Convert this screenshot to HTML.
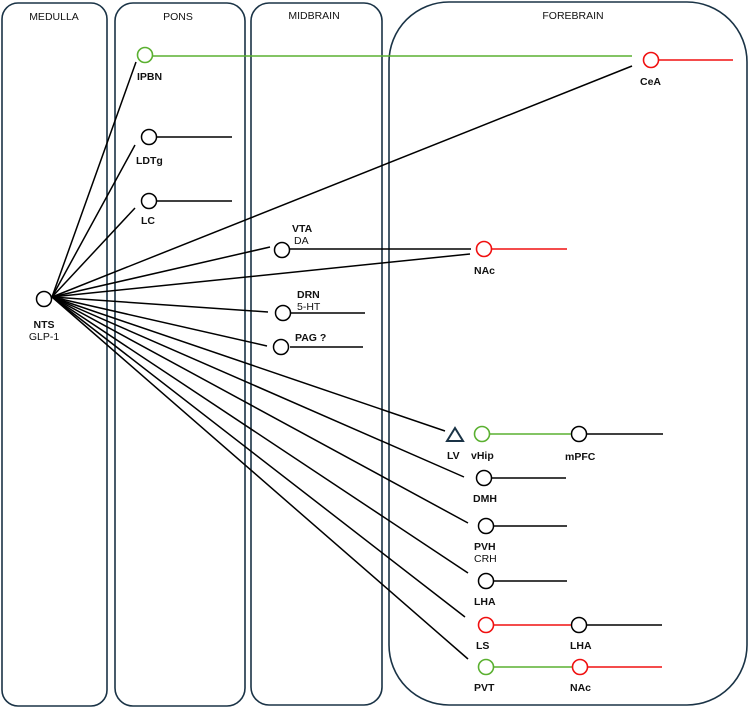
<!DOCTYPE html>
<html><head><meta charset="utf-8"><style>
html,body{margin:0;padding:0;background:#fff;}
svg{display:block;font-family:"Liberation Sans",Arial,sans-serif;}
.b{font-weight:bold;font-size:10.5px;fill:#111;}
.n{font-size:10.5px;fill:#111;}
.h{font-size:10.5px;fill:#111;}
</style></head><body>
<svg width="749" height="709" viewBox="0 0 749 709" xmlns="http://www.w3.org/2000/svg">
<g fill="none" stroke="#1a3346" stroke-width="1.6">
<rect x="2" y="3" width="105" height="703" rx="16"/>
<rect x="115" y="3" width="130" height="703" rx="18"/>
<rect x="251" y="3" width="131" height="702" rx="18"/>
<rect x="389" y="2" width="358" height="703" rx="60"/>
</g>
<text class="h" x="54" y="20" text-anchor="middle">MEDULLA</text>
<text class="h" x="178" y="20" text-anchor="middle">PONS</text>
<text class="h" x="314" y="19" text-anchor="middle">MIDBRAIN</text>
<text class="h" x="573" y="19" text-anchor="middle">FOREBRAIN</text>

<g stroke="#000" stroke-width="1.5" fill="none">
<line x1="52" y1="297" x2="136" y2="62"/>
<line x1="52" y1="297" x2="135" y2="145"/>
<line x1="52" y1="297" x2="135" y2="208"/>
<line x1="52" y1="297" x2="632" y2="66"/>
<line x1="52" y1="297" x2="270" y2="247"/>
<line x1="52" y1="297" x2="470" y2="254"/>
<line x1="52" y1="297" x2="268" y2="312"/>
<line x1="52" y1="297" x2="267" y2="346"/>
<line x1="52" y1="297" x2="445" y2="431"/>
<line x1="52" y1="297" x2="464" y2="477"/>
<line x1="52" y1="297" x2="468" y2="523"/>
<line x1="52" y1="297" x2="468" y2="573"/>
<line x1="52" y1="297" x2="465" y2="617"/>
<line x1="52" y1="297" x2="468" y2="659"/>
<line x1="157" y1="137" x2="232" y2="137"/>
<line x1="157" y1="201" x2="232" y2="201"/>
<line x1="290" y1="249" x2="471" y2="249"/>
<line x1="290" y1="313" x2="365" y2="313"/>
<line x1="290" y1="347" x2="363" y2="347"/>
<line x1="587" y1="434" x2="663" y2="434"/>
<line x1="492" y1="478" x2="566" y2="478"/>
<line x1="494" y1="526" x2="567" y2="526"/>
<line x1="494" y1="581" x2="567" y2="581"/>
<line x1="587" y1="625" x2="662" y2="625"/>
<circle cx="44" cy="299" r="7.5"/>
<circle cx="149" cy="137" r="7.5"/>
<circle cx="149" cy="201" r="7.5"/>
<circle cx="282" cy="250" r="7.5"/>
<circle cx="283" cy="313" r="7.5"/>
<circle cx="281" cy="347" r="7.5"/>
<circle cx="579" cy="434" r="7.5"/>
<circle cx="484" cy="478" r="7.5"/>
<circle cx="486" cy="526" r="7.5"/>
<circle cx="486" cy="581" r="7.5"/>
<circle cx="579" cy="625" r="7.5"/>
</g>
<g stroke="#5ab030" stroke-width="1.6" fill="none">
<line x1="152" y1="56" x2="632" y2="56"/>
<line x1="489" y1="434" x2="571" y2="434"/>
<line x1="494" y1="667" x2="572" y2="667"/>
<circle cx="145" cy="55" r="7.5"/>
<circle cx="482" cy="434" r="7.5"/>
<circle cx="486" cy="667" r="7.5"/>
</g>
<g stroke="#f01010" stroke-width="1.6" fill="none">
<line x1="658" y1="60" x2="733" y2="60"/>
<line x1="491" y1="249" x2="567" y2="249"/>
<line x1="494" y1="625" x2="571" y2="625"/>
<line x1="588" y1="667" x2="662" y2="667"/>
<circle cx="651" cy="60" r="7.5"/>
<circle cx="484" cy="249" r="7.5"/>
<circle cx="486" cy="625" r="7.5"/>
<circle cx="580" cy="667" r="7.5"/>
</g>
<polygon points="455,428 447,441 463,441" fill="none" stroke="#1a3346" stroke-width="2"/>

<text class="b" x="44" y="328" text-anchor="middle">NTS</text>
<text class="n" x="44" y="340" text-anchor="middle">GLP-1</text>
<text class="b" x="137" y="80">IPBN</text>
<text class="b" x="136" y="164">LDTg</text>
<text class="b" x="141" y="224">LC</text>
<text class="b" x="292" y="232">VTA</text>
<text class="n" x="294" y="244">DA</text>
<text class="b" x="297" y="298">DRN</text>
<text class="n" x="297" y="310">5-HT</text>
<text class="b" x="295" y="341">PAG ?</text>
<text class="b" x="640" y="85">CeA</text>
<text class="b" x="474" y="274">NAc</text>
<text class="b" x="447" y="459">LV</text>
<text class="b" x="471" y="459">vHip</text>
<text class="b" x="565" y="460">mPFC</text>
<text class="b" x="473" y="502">DMH</text>
<text class="b" x="474" y="550">PVH</text>
<text class="n" x="474" y="562">CRH</text>
<text class="b" x="474" y="605">LHA</text>
<text class="b" x="476" y="649">LS</text>
<text class="b" x="570" y="649">LHA</text>
<text class="b" x="474" y="691">PVT</text>
<text class="b" x="570" y="691">NAc</text>
</svg>
</body></html>
